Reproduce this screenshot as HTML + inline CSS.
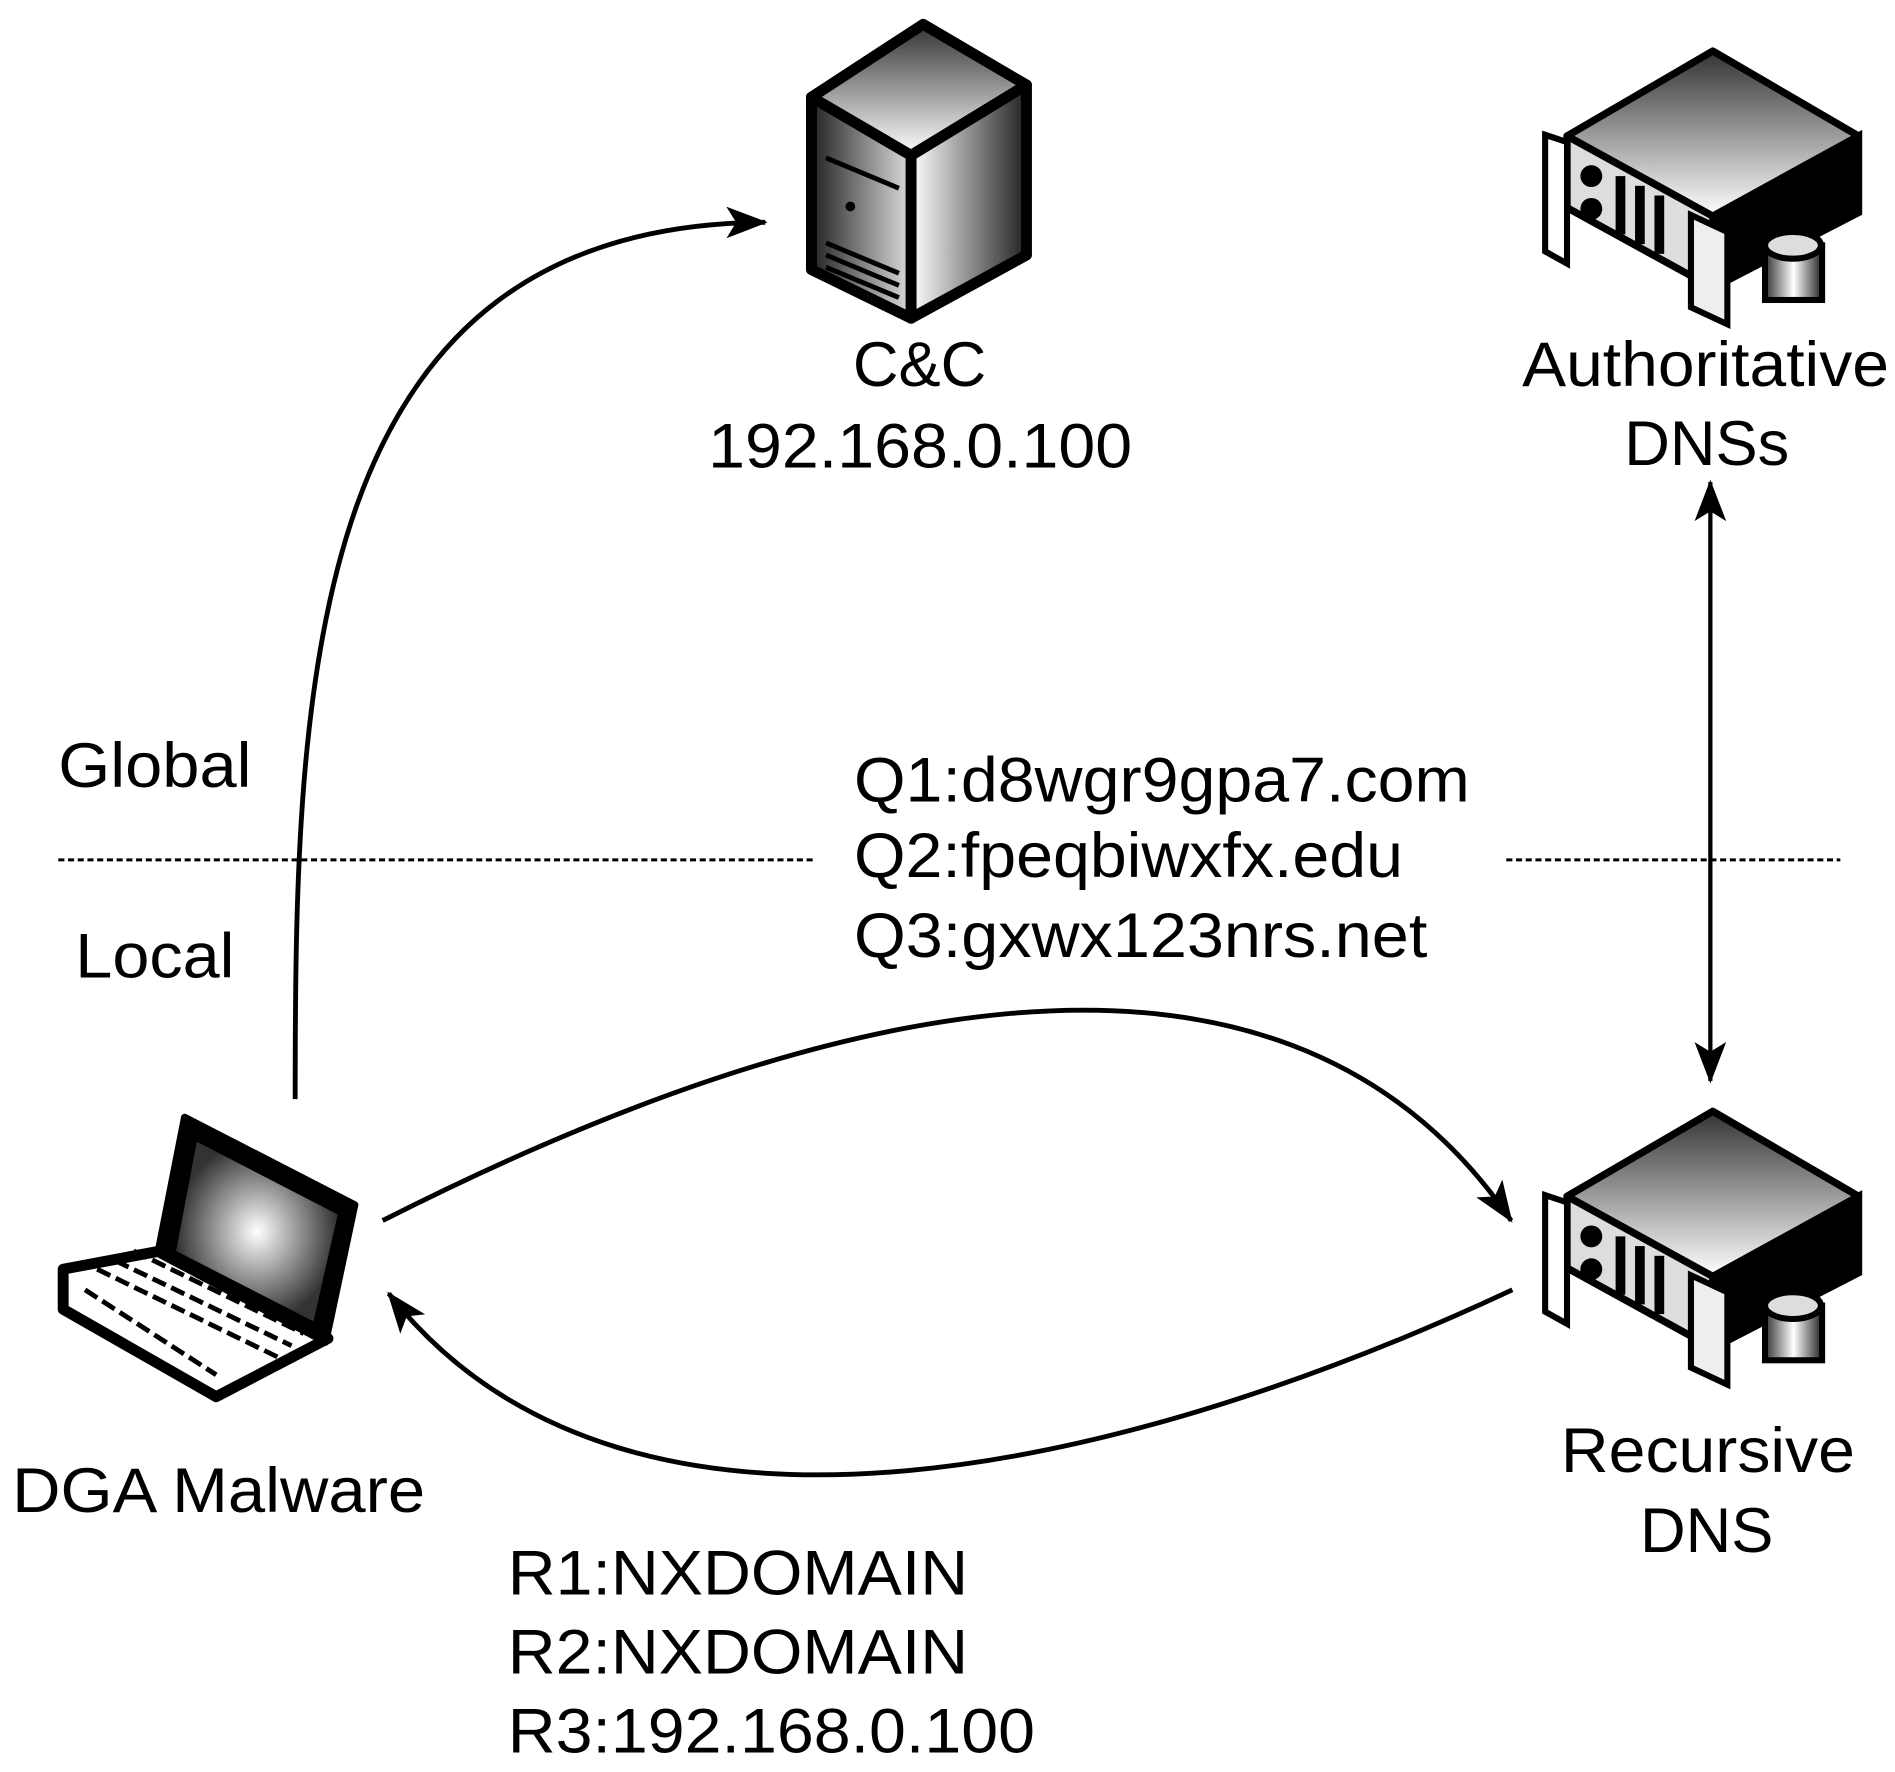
<!DOCTYPE html>
<html><head><meta charset="utf-8"><style>html,body{margin:0;padding:0;background:#fff}svg{display:block}</style></head><body>
<svg width="1895" height="1772" viewBox="0 0 1560 1459" preserveAspectRatio="none" xmlns="http://www.w3.org/2000/svg">
<defs>
<linearGradient id="top" x1="0" y1="0" x2="0" y2="1"><stop offset="0" stop-color="#333"/><stop offset="1" stop-color="#fff"/></linearGradient>
<linearGradient id="side" x1="0" y1="0" x2="1" y2="0"><stop offset="0" stop-color="#fff"/><stop offset="1" stop-color="#222"/></linearGradient>
<linearGradient id="front" x1="0" y1="0" x2="1" y2="0"><stop offset="0" stop-color="#222"/><stop offset="1" stop-color="#ddd"/></linearGradient>
<radialGradient id="scr"><stop offset="0" stop-color="#fff"/><stop offset="1" stop-color="#333"/></radialGradient>
<linearGradient id="cyl" x1="0" y1="0" x2="1" y2="0"><stop offset="0" stop-color="#333"/><stop offset=".5" stop-color="#fff"/><stop offset="1" stop-color="#222"/></linearGradient>
<marker id="ah2" markerWidth="34" markerHeight="26" refX="32" refY="13" orient="auto-start-reverse" markerUnits="userSpaceOnUse" viewBox="0 0 34 26"><path d="M0,0 L34,13 L0,26 L8,13 Z" fill="#000"/></marker>
<g id="rack">
<polygon points="1290,985 1410,915 1530,985 1410,1051" fill="url(#top)" stroke="#000" stroke-width="6" stroke-linejoin="round"/>
<polygon points="1410,1051 1530,985 1530,1048 1410,1110" fill="#000" stroke="#000" stroke-width="6"/>
<polygon points="1290,985 1410,1051 1410,1110 1290,1044" fill="#ddd" stroke="#000" stroke-width="6" stroke-linejoin="round"/>
<polygon points="1272,984 1290,990 1290,1090 1272,1080" fill="#fff" stroke="#000" stroke-width="5"/>
<polygon points="1392,1050 1422,1064 1422,1140 1392,1126" fill="#eee" stroke="#000" stroke-width="5"/>
<circle cx="1310" cy="1018" r="9" fill="#000"/><circle cx="1310" cy="1045" r="9" fill="#000"/>
<rect x="1330" y="1018" width="8" height="48" fill="#000"/><rect x="1346" y="1026" width="8" height="48" fill="#000"/><rect x="1362" y="1034" width="8" height="48" fill="#000"/>
<rect x="1453" y="1075" width="47" height="45" fill="url(#cyl)" stroke="#000" stroke-width="5"/>
<ellipse cx="1476" cy="1075" rx="23" ry="11" fill="#ddd" stroke="#000" stroke-width="5"/>
</g>
</defs>
<rect width="1560" height="1459" fill="#fff"/>

<polygon points="668,80 760,20 845,70 750,128" fill="url(#top)" stroke="#000" stroke-width="9" stroke-linejoin="round"/>
<polygon points="750,128 845,70 845,210 750,262" fill="url(#side)" stroke="#000" stroke-width="9" stroke-linejoin="round"/>
<polygon points="668,80 750,128 750,262 668,222" fill="url(#front)" stroke="#000" stroke-width="9" stroke-linejoin="round"/>
<line x1="680" y1="130" x2="740" y2="155" stroke="#000" stroke-width="4"/>
<line x1="680" y1="200" x2="740" y2="225" stroke="#000" stroke-width="4"/>
<line x1="680" y1="210" x2="740" y2="235" stroke="#000" stroke-width="4"/>
<line x1="680" y1="220" x2="740" y2="245" stroke="#000" stroke-width="4"/>
<circle cx="700" cy="170" r="4" fill="#000"/>

<use href="#rack" transform="translate(0,-873)"/>
<use href="#rack"/>

<polygon points="52,1045 132,1030 270,1102 178,1150 52,1078" fill="#fff" stroke="#000" stroke-width="9" stroke-linejoin="round"/>
<polygon points="152,920 292,992 268,1105 130,1032" fill="#000" stroke="#000" stroke-width="6" stroke-linejoin="round"/>
<polygon points="162,940 278,1000 258,1088 145,1030" fill="url(#scr)"/>
<g stroke="#000" stroke-width="4" stroke-dasharray="12,5">
<line x1="80" y1="1045" x2="230" y2="1118"/><line x1="95" y1="1038" x2="240" y2="1108"/><line x1="110" y1="1030" x2="250" y2="1098"/>
<line x1="70" y1="1062" x2="178" y2="1132"/>
</g>

<path d="M243,905 C243,560 250,185 630,183" fill="none" stroke="#000" stroke-width="4" marker-end="url(#ah2)"/>
<line x1="1408" y1="397" x2="1408" y2="890" stroke="#000" stroke-width="3.5" marker-start="url(#ah2)" marker-end="url(#ah2)"/>
<path d="M315,1005 C650,835 1050,720 1244,1005" fill="none" stroke="#000" stroke-width="4" marker-end="url(#ah2)"/>
<path d="M1245,1062 C950,1200 520,1320 320,1065" fill="none" stroke="#000" stroke-width="4" marker-end="url(#ah2)"/>

<line x1="48" y1="708" x2="672" y2="708" stroke="#000" stroke-width="2.5" stroke-dasharray="5,3"/>
<line x1="1240" y1="708" x2="1515" y2="708" stroke="#000" stroke-width="2.5" stroke-dasharray="5,3"/>

<g font-family="Liberation Sans, sans-serif" font-size="52" fill="#000">
<text x="757" y="318" text-anchor="middle">C&amp;C</text>
<text x="583" y="385" textLength="349" lengthAdjust="spacingAndGlyphs">192.168.0.100</text>
<text x="1253" y="318" textLength="302" lengthAdjust="spacingAndGlyphs">Authoritative</text>
<text x="1405" y="383" text-anchor="middle">DNSs</text>
<text x="1285" y="1212" textLength="242" lengthAdjust="spacingAndGlyphs">Recursive</text>
<text x="1405" y="1278" text-anchor="middle">DNS</text>
<text x="10" y="1245" textLength="340" lengthAdjust="spacingAndGlyphs">DGA Malware</text>
<text x="48" y="648" textLength="159" lengthAdjust="spacingAndGlyphs">Global</text>
<text x="62" y="805" textLength="131" lengthAdjust="spacingAndGlyphs">Local</text>
<text x="703" y="660" textLength="507" lengthAdjust="spacingAndGlyphs">Q1:d8wgr9gpa7.com</text>
<text x="703" y="722" textLength="452" lengthAdjust="spacingAndGlyphs">Q2:fpeqbiwxfx.edu</text>
<text x="703" y="788" textLength="472" lengthAdjust="spacingAndGlyphs">Q3:gxwx123nrs.net</text>
<text x="418" y="1313" textLength="379" lengthAdjust="spacingAndGlyphs">R1:NXDOMAIN</text>
<text x="418" y="1378" textLength="379" lengthAdjust="spacingAndGlyphs">R2:NXDOMAIN</text>
<text x="418" y="1443" textLength="434" lengthAdjust="spacingAndGlyphs">R3:192.168.0.100</text>
</g>
</svg>
</body></html>
